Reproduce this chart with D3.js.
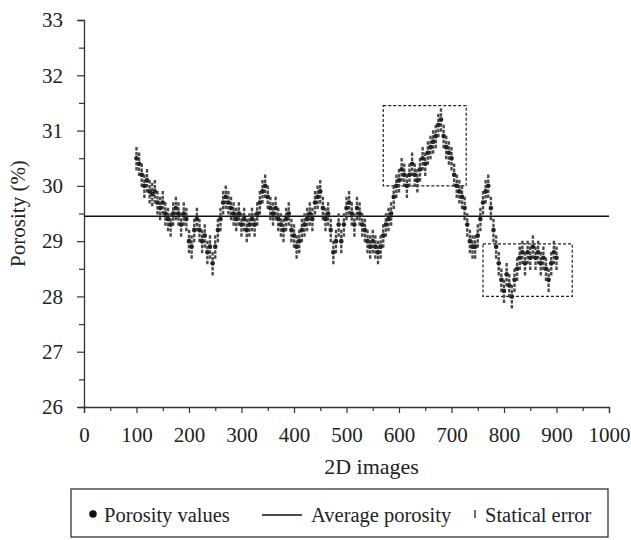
<!DOCTYPE html>
<html><head><meta charset="utf-8">
<script src="https://cdn.jsdelivr.net/npm/d3@7"></script>
<style>body{margin:0;background:#fff;} svg{display:block;}</style>
</head><body>
<svg id="c" width="631" height="540"></svg>
<script>
const imageIndex = [100,105,110,115,120,125,130,135,140,145,150,155,160,165,170,175,180,185,190,195,200,205,210,215,220,225,230,235,240,245,250,255,260,265,270,275,280,285,290,295,300,305,310,315,320,325,330,335,340,345,350,355,360,365,370,375,380,385,390,395,400,405,410,415,420,425,430,435,440,445,450,455,460,465,470,475,480,485,490,495,500,505,510,515,520,525,530,535,540,545,550,555,560,565,570,575,580,585,590,595,600,605,610,615,620,625,630,635,640,645,650,655,660,665,670,675,680,685,690,695,700,705,710,715,720,725,730,735,740,745,750,755,760,765,770,775,780,785,790,795,800,805,810,815,820,825,830,835,840,845,850,855,860,865,870,875,880,885,890,895,900];
const porosity = [30.5,30.4,30.2,30.0,30.1,29.9,29.85,29.9,29.7,29.6,29.7,29.5,29.4,29.3,29.5,29.6,29.5,29.3,29.5,29.4,29.0,28.9,29.2,29.4,29.2,29.0,29.1,28.8,28.9,28.6,28.9,29.2,29.4,29.7,29.8,29.7,29.6,29.5,29.4,29.5,29.3,29.4,29.2,29.3,29.4,29.3,29.5,29.7,29.9,30.0,29.8,29.6,29.5,29.6,29.4,29.3,29.2,29.4,29.5,29.2,29.1,28.9,29.0,29.2,29.3,29.4,29.5,29.4,29.7,29.8,29.9,29.6,29.4,29.5,29.2,28.8,29.0,29.3,29.0,29.3,29.6,29.7,29.5,29.3,29.6,29.5,29.3,29.2,29.0,28.9,29.0,28.9,28.8,28.9,29.1,29.3,29.4,29.5,29.8,30.0,30.1,30.3,30.2,30.0,30.2,30.4,30.2,30.1,30.3,30.5,30.4,30.6,30.7,30.8,30.9,31.1,31.2,30.9,30.7,30.6,30.5,30.2,30.0,29.9,29.8,29.6,29.3,29.0,28.9,28.9,29.1,29.4,29.7,29.9,30.0,29.6,29.2,28.9,28.6,28.3,28.1,28.4,28.2,28.0,28.3,28.5,28.7,28.8,28.6,28.8,28.7,28.9,28.7,28.8,28.6,28.7,28.5,28.3,28.6,28.8,28.7];
const statError = 0.22;
const averagePorosity = 29.45;
const xTicks = [0,100,200,300,400,500,600,700,800,900,1000];
const yTicks = [26,27,28,29,30,31,32,33];
const highlightBoxes = [{x0:570,x1:728,y0:30.0,y1:31.45},{x0:760,x1:930,y0:28.0,y1:28.95}];
const legendLabels = ["Porosity values","Average porosity","Statical error"];

const svg = d3.select("#c");
const L=84,R=609,T=20,B=407;
const x = d3.scaleLinear().domain([0,1000]).range([L,R]);
const y = d3.scaleLinear().domain([26,33]).range([B,T]);
const font = "'Liberation Serif','Times New Roman',serif";

// axes
const xAxis = d3.axisBottom(x).tickValues(d3.range(0,1001,50)).tickSizeOuter(0)
  .tickSize(6).tickFormat(d => xTicks.includes(d) ? d : "");
const gx = svg.append("g").attr("transform",`translate(0,${B})`).call(xAxis);
gx.selectAll(".tick line").attr("y2", d => d%100===0 ? 6 : 4);
gx.selectAll("text").attr("y",20).style("font-family",font).style("font-size","21px").attr("fill","#222");
const yAxis = d3.axisLeft(y).tickValues(d3.range(26,33.01,0.5)).tickSizeOuter(0)
  .tickSize(6).tickFormat(d => yTicks.includes(d) ? d : "");
const gy = svg.append("g").attr("transform",`translate(${L},0)`).call(yAxis);
gy.selectAll(".tick line").attr("x2", d => Number.isInteger(d) ? -7 : -5);
gy.selectAll("text").attr("x",-21).style("font-family",font).style("font-size","21px").attr("fill","#222");
svg.selectAll(".domain").attr("stroke","#333").attr("stroke-width",1.3);
svg.selectAll(".tick line").attr("stroke","#333").attr("stroke-width",1.2);

// labels
svg.append("text").attr("x",(L+R)/2+25).attr("y",474).attr("text-anchor","middle")
  .style("font-family",font).style("font-size","22px").attr("fill","#222").text("2D images");
svg.append("text").attr("transform",`translate(25,${(T+B)/2}) rotate(-90)`).attr("text-anchor","middle")
  .style("font-family",font).style("font-size","21px").attr("fill","#222").text("Porosity (%)");

// boxes
svg.append("g").selectAll("rect").data(highlightBoxes).join("rect")
  .attr("x",d=>x(d.x0)).attr("width",d=>x(d.x1)-x(d.x0))
  .attr("y",d=>y(d.y1)).attr("height",d=>y(d.y0)-y(d.y1))
  .attr("fill","none").attr("stroke","#222").attr("stroke-width",1.2).attr("stroke-dasharray","3,2");

// average line
svg.append("line").attr("x1",L).attr("x2",R).attr("y1",y(averagePorosity)).attr("y2",y(averagePorosity))
  .attr("stroke","#111").attr("stroke-width",1.4);

// data
const pts = imageIndex.map((d,i)=>({x:d,v:porosity[i]}));
svg.append("g").selectAll("line").data(pts).join("line")
  .attr("x1",d=>x(d.x)).attr("x2",d=>x(d.x))
  .attr("y1",d=>y(d.v-statError)).attr("y2",d=>y(d.v+statError))
  .attr("stroke","#4a4a4a").attr("stroke-width",2.4).attr("stroke-dasharray","3.5,1.5");
svg.append("g").selectAll("circle").data(pts).join("circle")
  .attr("cx",d=>x(d.x)).attr("cy",d=>y(d.v)).attr("r",2.3).attr("fill","#222");

// legend
const lg = svg.append("g");
lg.append("rect").attr("x",71).attr("y",489).attr("width",537).attr("height",48)
  .attr("fill","none").attr("stroke","#333").attr("stroke-width",1.3);
const ly = 515;
const fs = "20.5px";
lg.append("circle").attr("cx",93).attr("cy",ly-1).attr("r",3.8).attr("fill","#111");
lg.append("text").attr("x",104).attr("y",ly+7).style("font-family",font).style("font-size",fs).attr("fill","#222").text(legendLabels[0]);
lg.append("line").attr("x1",262).attr("x2",302).attr("y1",ly).attr("y2",ly).attr("stroke","#111").attr("stroke-width",1.4);
lg.append("text").attr("x",311).attr("y",ly+7).style("font-family",font).style("font-size",fs).attr("fill","#222").text(legendLabels[1]);
lg.append("line").attr("x1",475).attr("x2",475).attr("y1",ly-5).attr("y2",ly+3).attr("stroke","#444").attr("stroke-width",1.6);
lg.append("text").attr("x",485).attr("y",ly+7).style("font-family",font).style("font-size",fs).attr("fill","#222").text(legendLabels[2]);
</script>
</body></html>
